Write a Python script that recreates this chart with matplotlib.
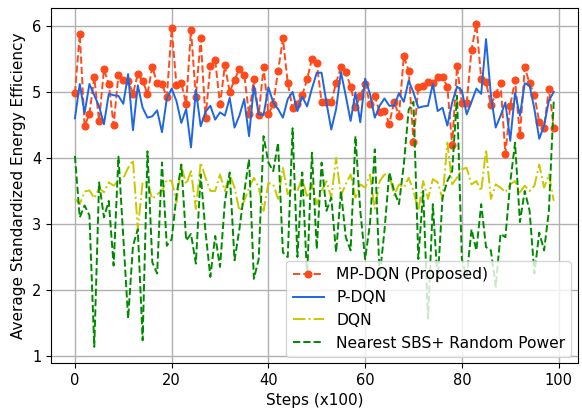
import matplotlib
matplotlib.use("Agg")
import matplotlib.pyplot as plt
import numpy as np

steps = list(range(100))

mp_dqn = [4.98, 5.88, 4.48, 4.67, 5.22, 4.56, 5.34, 5.12, 4.50, 5.26,
          5.18, 5.17, 4.97, 5.27, 5.17, 4.97, 5.38, 5.13, 5.12, 4.92,
          5.96, 5.10, 5.13, 4.82, 5.94, 4.92, 5.81, 4.60, 5.39, 5.48,
          4.81, 5.40, 5.00, 5.18, 5.35, 5.26, 4.66, 5.19, 4.65, 5.38,
          4.66, 4.82, 5.31, 5.81, 5.14, 4.75, 4.82, 4.95, 5.19, 5.50,
          5.44, 4.84, 4.84, 4.84, 5.14, 5.37, 5.30, 5.08, 4.77, 4.94,
          5.12, 4.82, 4.94, 4.69, 4.71, 4.52, 4.85, 4.64, 5.54, 5.32,
          4.24, 5.08, 5.09, 5.15, 5.14, 5.22, 5.22, 5.08, 4.19, 5.39,
          4.83, 4.83, 5.64, 6.03, 5.20, 5.15, 4.80, 4.97, 5.13, 4.06,
          4.79, 5.18, 4.34, 5.37, 5.13, 4.95, 4.54, 4.46, 5.05, 4.46]

p_dqn = [4.60, 5.12, 4.68, 5.12, 4.95, 4.78, 4.51, 4.97, 4.95, 4.94,
         4.82, 5.27, 4.42, 5.10, 4.76, 4.61, 4.63, 4.72, 4.39, 4.90,
         5.05, 4.86, 4.53, 4.74, 4.16, 5.03, 4.48, 4.70, 4.79, 4.58,
         4.69, 4.64, 4.91, 4.46, 4.64, 4.89, 4.33, 5.09, 4.66, 4.65,
         5.07, 4.84, 4.74, 4.61, 4.89, 5.00, 4.71, 4.93, 4.78, 5.05,
         5.29, 5.29, 4.84, 4.43, 4.74, 5.30, 4.94, 4.56, 4.99, 4.54,
         5.20, 4.97, 4.61, 4.79, 4.90, 4.79, 4.79, 4.98, 4.85, 5.17,
         4.99, 4.76, 4.78, 4.79, 5.12, 4.71, 4.76, 4.49, 4.84, 5.08,
         5.02, 4.66, 4.85, 5.05, 4.97, 5.80, 4.95, 4.46, 4.64, 4.84,
         4.26, 4.99, 4.64, 5.13, 5.10, 4.74, 4.29, 4.49, 4.87, 5.00]

dqn = [3.38, 3.30, 3.49, 3.51, 3.39, 3.54, 3.48, 3.63, 3.58, 3.65,
       3.69, 3.85, 3.97, 2.92, 3.63, 3.63, 3.38, 3.45, 3.50, 3.67,
       3.65, 3.33, 3.88, 3.60, 3.80, 3.23, 3.93, 3.70, 3.50, 3.50,
       3.75, 3.50, 3.75, 3.55, 3.20, 3.35, 3.55, 3.70, 3.55, 3.20,
       3.62, 3.60, 3.38, 3.85, 3.45, 3.55, 3.50, 3.70, 3.40, 3.60,
       3.30, 3.50, 3.65, 3.40, 4.00, 3.43, 3.60, 3.75, 3.40, 3.60,
       3.55, 3.75, 3.23, 3.65, 3.75, 3.75, 3.43, 3.60, 3.55, 3.70,
       3.50, 3.20, 3.65, 3.38, 3.68, 3.63, 3.38, 4.23, 3.60, 3.70,
       3.83, 3.85, 3.60, 3.65, 3.50, 4.13, 3.38, 3.60, 3.55, 3.48,
       3.60, 3.65, 3.48, 3.58, 3.50, 3.58, 3.90, 3.55, 3.75, 3.35]

nearest = [4.03, 3.10, 3.28, 3.13, 1.14, 3.63, 3.10, 3.35, 2.37, 4.02,
           2.80, 1.57, 2.67, 2.92, 1.24, 4.10, 2.42, 2.25, 3.93, 2.67,
           2.77, 3.43, 3.90, 2.75, 2.85, 2.40, 3.75, 2.88, 2.20, 2.82,
           2.35, 3.33, 3.78, 2.45, 2.92, 3.48, 3.98, 2.17, 2.47, 4.33,
           3.93, 3.80, 4.23, 2.57, 2.50, 4.45, 2.50, 3.78, 2.20, 4.08,
           2.62, 3.93, 3.20, 3.40, 2.57, 3.50, 2.80, 2.60, 4.33, 3.20,
           2.47, 3.00, 4.13, 2.20, 2.90, 3.78, 3.50, 3.30, 3.90, 4.73,
           4.85, 2.47, 3.50, 1.57, 3.30, 2.12, 3.40, 3.65, 3.80, 4.94,
           2.47, 2.20, 2.92, 2.60, 3.30, 2.65, 2.60, 2.05, 2.85, 2.80,
           3.63, 4.23, 3.03, 3.50, 3.20, 2.25, 2.87, 2.60, 3.20, 4.87]

labels = ["MP-DQN (Proposed)", "P-DQN", "DQN", "Nearest SBS+ Random Power"]

fig = plt.figure(figsize=(5.82, 4.17), dpi=100)
ax = fig.add_axes([0.0876, 0.1295, 0.905, 0.852])

ax.plot(steps, mp_dqn, linestyle="--", marker="o", color="#ff4a1c",
        markersize=4.8, linewidth=1.4, label=labels[0])
ax.plot(steps, p_dqn, linestyle="-", color="#1f66e0", linewidth=1.4, label=labels[1])
ax.plot(steps, dqn, linestyle="-.", color="#c8c800", linewidth=1.4, label=labels[2])
ax.plot(steps, nearest, linestyle="--", color="#008a00", linewidth=1.4, label=labels[3])

ax.set_xticks([0, 20, 40, 60, 80, 100])
ax.set_yticks([1, 2, 3, 4, 5, 6])
ax.tick_params(labelsize=10.5)
ax.grid(True, color="#b0b0b0", linewidth=1.0)
ax.set_xlabel("Steps (x100)", fontsize=11)
ax.set_ylabel("Average Standardized Energy Efficiency", fontsize=11)
ax.legend(loc="lower right", fontsize=11.2, borderaxespad=0.4)

fig.savefig("out.png", dpi=100)
